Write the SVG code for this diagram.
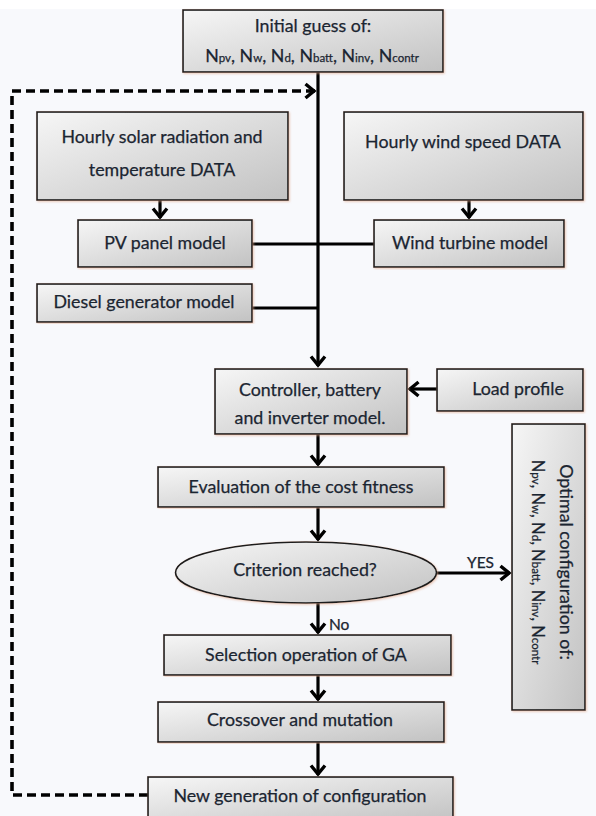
<svg xmlns="http://www.w3.org/2000/svg" width="596" height="816" viewBox="0 0 596 816">
<style>
.box{fill:url(#g);stroke:#1a1a1a;stroke-width:1.6;filter:url(#sh)}
.t{font-family:Lato,"Liberation Sans",sans-serif;font-size:17.8px;fill:#1b2531;stroke:#1b2531;stroke-width:0.25;text-anchor:middle}
.s{font-size:11.5px}
.ln{stroke:#000;stroke-width:3.2;fill:none}
.dash{stroke:#000;stroke-width:3.6;fill:none;stroke-dasharray:9 5}
</style>
<defs>
<linearGradient id="g" x1="0" y1="0" x2="1" y2="1">
<stop offset="0" stop-color="#f6f6f6"/>
<stop offset="1" stop-color="#c2c2c2"/>
</linearGradient>
<filter id="sh" x="-5%" y="-5%" width="110%" height="110%">
<feDropShadow dx="1" dy="1" stdDeviation="0.8" flood-color="#e2a88a" flood-opacity="0.6"/>
</filter>
<marker id="ah" viewBox="-12 -9 14 18" markerWidth="14" markerHeight="18" refX="0" refY="0" orient="auto" markerUnits="userSpaceOnUse">
<path d="M-9.5,-7 L-1,0 L-9.5,7" fill="none" stroke="#000" stroke-width="3.4"/>
</marker>
</defs>
<rect x="0" y="0" width="596" height="816" fill="#f8f9fc"/>
<rect x="0" y="0" width="596" height="9" fill="#ffffff"/>

<g id="connectors">
<path class="ln" d="M318,72 V366" marker-end="url(#ah)"/>
<path class="ln" d="M252,244 H374"/>
<path class="ln" d="M252,308 H318"/>
<path class="ln" d="M160,200 V218" marker-end="url(#ah)"/>
<path class="ln" d="M469,200 V218" marker-end="url(#ah)"/>
<path class="ln" d="M437,389 H409" marker-end="url(#ah)"/>
<path class="ln" d="M318,434 V465" marker-end="url(#ah)"/>
<path class="ln" d="M318,507 V540" marker-end="url(#ah)"/>
<path class="ln" d="M318,603 V633" marker-end="url(#ah)"/>
<path class="ln" d="M318,675 V700" marker-end="url(#ah)"/>
<path class="ln" d="M318,742 V775" marker-end="url(#ah)"/>
<path class="ln" d="M437,573 H510" marker-end="url(#ah)"/>
<path class="dash" d="M148,795 H12 V91 H315" marker-end="url(#ah)"/>
<text class="t" x="467" y="568" style="text-anchor:start;font-size:15.5px">YES</text>
<text class="t" x="329" y="630" style="text-anchor:start;font-size:15.5px">No</text>
</g>

<g id="initial">
<rect class="box" x="183" y="10" width="260" height="62"/>
<text class="t" x="313" y="32">Initial guess of:</text>
<text class="t" x="312" y="62">N<tspan class="s">pv</tspan>, N<tspan class="s">w</tspan>, N<tspan class="s">d</tspan>, N<tspan class="s">batt</tspan>, N<tspan class="s">inv</tspan>, N<tspan class="s">contr</tspan></text>
</g>

<g id="solar">
<rect class="box" x="37" y="112" width="251" height="88"/>
<text class="t" x="162" y="143">Hourly solar radiation and</text>
<text class="t" x="162" y="176">temperature DATA</text>
</g>

<g id="winddata">
<rect class="box" x="344" y="112" width="239" height="88"/>
<text class="t" x="463" y="148">Hourly wind speed DATA</text>
</g>

<g id="pv">
<rect class="box" x="78" y="220" width="174" height="47"/>
<text class="t" x="165" y="249">PV panel model</text>
</g>

<g id="windturbine">
<rect class="box" x="374" y="220" width="190" height="47"/>
<text class="t" x="470" y="249">Wind turbine model</text>
</g>

<g id="diesel">
<rect class="box" x="37" y="284" width="215" height="38"/>
<text class="t" x="144" y="308">Diesel generator model</text>
</g>

<g id="controller">
<rect class="box" x="215" y="369" width="192" height="65"/>
<text class="t" x="310" y="396">Controller, battery</text>
<text class="t" x="310" y="424">and inverter model.</text>
</g>

<g id="load">
<rect class="box" x="437" y="369" width="146" height="42"/>
<text class="t" x="518" y="395">Load profile</text>
</g>

<g id="evaluation">
<rect class="box" x="158" y="467" width="286" height="40"/>
<text class="t" x="301" y="493">Evaluation of the cost fitness</text>
</g>

<g id="criterion">
<ellipse class="box" cx="306" cy="572.5" rx="130.5" ry="30.5"/>
<text class="t" x="305" y="576">Criterion reached?</text>
</g>

<g id="optimal">
<rect class="box" x="512" y="424" width="73" height="286"/>
<text class="t" transform="translate(560,562) rotate(90)">Optimal configuration of:</text>
<text class="t" transform="translate(532,562) rotate(90)" style="font-size:16.5px">N<tspan class="s">pv</tspan>, N<tspan class="s">w</tspan>, N<tspan class="s">d</tspan>, N<tspan class="s">batt</tspan>, N<tspan class="s">inv</tspan>, N<tspan class="s">contr</tspan></text>
</g>

<g id="selection">
<rect class="box" x="164" y="635" width="287" height="40"/>
<text class="t" x="306" y="661">Selection operation of GA</text>
</g>

<g id="crossover">
<rect class="box" x="158" y="702" width="286" height="40"/>
<text class="t" x="300" y="726">Crossover and mutation</text>
</g>

<g id="newgen">
<rect class="box" x="148" y="777" width="305" height="45"/>
<text class="t" x="300" y="802">New generation of configuration</text>
</g>
</svg>
